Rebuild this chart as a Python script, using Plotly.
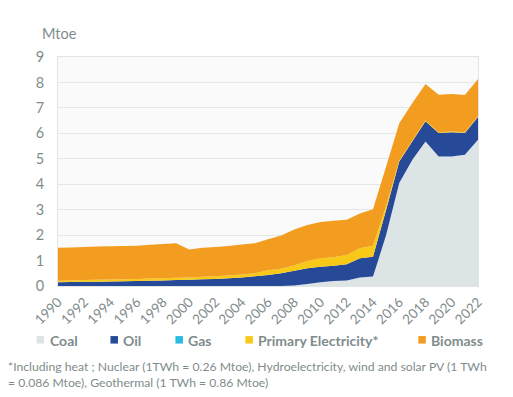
import plotly.graph_objects as go

years = list(range(1990, 2023))

coal = [0, 0, 0, 0, 0, 0, 0, 0, 0, 0,
        0, 0, 0, 0, 0, 0, 0, 0, 0.02, 0.08,
        0.15, 0.20, 0.22, 0.33, 0.37, 2.00, 4.05, 4.96, 5.68, 5.09,
        5.09, 5.16, 5.75]
oil = [0.15, 0.16, 0.17, 0.17, 0.18, 0.19, 0.20, 0.21, 0.22, 0.24,
       0.25, 0.27, 0.28, 0.30, 0.33, 0.38, 0.43, 0.50, 0.58, 0.62,
       0.61, 0.60, 0.63, 0.76, 0.78, 1.00, 0.84, 0.73, 0.79, 0.92,
       0.95, 0.85, 0.89]
gas = [0.0] * 33
primary_elec = [0.06, 0.06, 0.07, 0.08, 0.08, 0.08, 0.08, 0.08, 0.08, 0.08,
                0.08, 0.09, 0.10, 0.11, 0.12, 0.12, 0.19, 0.18, 0.21, 0.28,
                0.33, 0.33, 0.37, 0.39, 0.43, 0.15, 0.04, 0.03, 0.03, 0.03,
                0.03, 0.03, 0.03]
biomass = [1.29, 1.29, 1.29, 1.30, 1.30, 1.30, 1.30, 1.33, 1.35, 1.36,
           1.10, 1.14, 1.15, 1.16, 1.18, 1.18, 1.22, 1.30, 1.41, 1.42,
           1.43, 1.43, 1.38, 1.37, 1.44, 1.55, 1.47, 1.47, 1.44, 1.48,
           1.48, 1.47, 1.47]

series_names = ["Coal", "Oil", "Gas", "Primary Electricity*", "Biomass"]
series_values = [coal, oil, gas, primary_elec, biomass]
colors = ["#dde4e5", "#264a98", "#2bbbe0", "#f8ca17", "#f39d20"]

tick_years = list(range(1990, 2023, 2))
y_ticks = list(range(0, 10))

TXT = "#7f8c8d"
FONT = "Lato"

# page has an 8px body margin: figure origin sits at screen (8, 8)
OFF = 8
W, H = 513, 397
plot_l, plot_r = 57.5 - OFF, 477.7 - OFF
plot_t, plot_b = 57.3 - OFF, 286 - OFF
plot_w, plot_h = plot_r - plot_l, plot_b - plot_t

def sx(px):
    return (px - OFF - plot_l) / plot_w

def sy(py):
    return (plot_b - (py - OFF)) / plot_h

fig = go.Figure()
for name, vals, col in zip(series_names, series_values, colors):
    fig.add_trace(go.Scatter(
        x=years, y=vals, name=name, stackgroup="one", mode="none",
        fillcolor=col, line=dict(width=0), showlegend=False,
        hoverinfo="x+y+name"))

fig.update_layout(
    width=W, height=H,
    margin=dict(l=plot_l, r=W - plot_r, t=plot_t, b=H - plot_b, autoexpand=False),
    paper_bgcolor="white", plot_bgcolor="#fafafa",
    font=dict(family=FONT, color=TXT, size=13),
    xaxis=dict(range=[1990, 2022], tickvals=tick_years,
               ticktext=[str(y) for y in tick_years], tickangle=-45,
               showgrid=False, zeroline=False, showline=True,
               linecolor="#dfe4e4", mirror=True, ticklabelstandoff=2,
               tickfont=dict(size=13.5, color=TXT, family=FONT)),
    yaxis=dict(range=[0, 9], tickvals=y_ticks, showgrid=True,
               gridcolor="#e2e7e7", gridwidth=1, zeroline=False,
               showline=True, linecolor="#dfe4e4", mirror=True,
               ticklabelstandoff=10,
               tickfont=dict(size=14.5, color=TXT, family=FONT)),
)

fig.add_annotation(text="Mtoe", xref="paper", yref="paper",
                   x=sx(39), y=sy(34), xanchor="left", yanchor="middle",
                   showarrow=False, font=dict(size=14.5, color=TXT, family=FONT))

# Custom legend (squares + labels), positions in screen pixels
legend_sq_x = [36, 110, 175, 245, 418]
for name, col, lx in zip(series_names, colors, legend_sq_x):
    fig.add_shape(type="rect", xref="paper", yref="paper",
                  x0=sx(lx), x1=sx(lx + 7.5),
                  y0=sy(343.5), y1=sy(336),
                  fillcolor=col, line=dict(width=0))
    fig.add_annotation(text="<b>" + name + "</b>", xref="paper", yref="paper",
                       x=sx(lx + 11), y=sy(340),
                       xanchor="left", yanchor="middle", showarrow=False,
                       font=dict(size=14, color=TXT, family=FONT))

footnote = ("*Including heat ; Nuclear (1TWh = 0.26 Mtoe), Hydroelectricity, wind and solar PV (1 TWh<br>"
            "= 0.086 Mtoe), Geothermal (1 TWh = 0.86 Mtoe)")
fig.add_annotation(text=footnote, xref="paper", yref="paper",
                   x=sx(5), y=sy(357),
                   xanchor="left", yanchor="top", align="left",
                   showarrow=False,
                   font=dict(size=12.2, color=TXT, family=FONT))

fig.write_html("out.html")
